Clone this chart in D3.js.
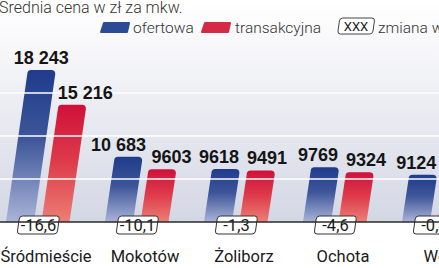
<!DOCTYPE html>
<html>
<head>
<meta charset="utf-8">
<script src="https://cdn.jsdelivr.net/npm/d3@7"></script>
<style>
  body { margin: 0; background: #fff; }
  svg { display: block; }
</style>
</head>
<body>
<svg width="439" height="268"></svg>
<script>
// dane: średnia cena w zł za mkw.
var categories = ['Śródmieście', 'Mokotów', 'Żoliborz', 'Ochota', 'Wola'];
var ofertowa = [18243, 10683, 9618, 9769, 9124];
var transakcyjna = [15216, 9603, 9491, 9324, 8870];
var zmiana = ['-16,6', '-10,1', '-1,3', '-4,6', '-0,4'];
var gridValues = [8750, 12500, 16250];

var svg = d3.select('svg');
var width = +svg.attr('width');
var height = +svg.attr('height');
var baseY = 222;
var slant = 0.14;
var barW = 28;

var x = d3.scalePoint()
    .domain(categories)
    .range([38, 434])
;

var y = d3.scaleLinear()
    .domain([5000, 18243])
    .range([baseY, 70])
;

var defs = svg.append('defs');

function vgrad(id, stops) {
    var g = defs.append('linearGradient')
        .attr('id', id)
        .attr('x1', 0).attr('y1', 0)
        .attr('x2', 0).attr('y2', 1);
    stops.forEach(function (s) {
        g.append('stop').attr('offset', s[0]).attr('stop-color', s[1]);
    });
}

vgrad('bg', [[0, '#ffffff'], [0.25, '#f6f6f9'], [1, '#d3d7e4']]);
vgrad('blue', [[0, '#1f3c8b'], [0.45, '#3d5599'], [1, '#aab4d8']]);
vgrad('red', [[0, '#d0103a'], [0.5, '#de3d4b'], [1, '#ec7f76']]);

// tło
svg.append('rect')
    .attr('x', 0).attr('y', 0)
    .attr('width', width).attr('height', baseY)
    .attr('fill', 'url(#bg)')
;

function barPath(xl, v) {
    var yt = y(v);
    var h = baseY - yt;
    var xt = xl + slant * h;
    var r = 4;
    return 'M' + xl + ',' + baseY +
        'L' + (xt) + ',' + (yt + r) +
        'Q' + xt + ',' + yt + ',' + (xt + r) + ',' + yt +
        'L' + (xt + barW - r) + ',' + yt +
        'Q' + (xt + barW) + ',' + yt + ',' + (xt + barW) + ',' + (yt + r) +
        'L' + (xl + barW) + ',' + baseY + 'Z';
}

var rows = categories.map(function (c, i) {
    return {cat: c, of: ofertowa[i], tr: transakcyjna[i], zm: zmiana[i]};
});

var group = svg.selectAll('.grp')
    .data(rows)
    .enter()
    .append('g')
        .attr('class', 'grp')
;

group.append('path')
    .attr('d', function (d) { return barPath(x(d.cat) - 32, d.of); })
    .attr('fill', 'url(#blue)')
;
group.append('path')
    .attr('d', function (d) { return barPath(x(d.cat) + 3.5, d.tr); })
    .attr('fill', 'url(#red)')
;

// linie siatki
svg.selectAll('.grid')
    .data(gridValues)
    .enter()
    .append('line')
        .attr('x1', 0).attr('x2', width)
        .attr('y1', function (d) { return y(d); })
        .attr('y2', function (d) { return y(d); })
        .attr('stroke', '#fff')
        .attr('stroke-width', 1.5)
;

// oś
svg.append('line')
    .attr('x1', 0).attr('x2', width)
    .attr('y1', baseY).attr('y2', baseY)
    .attr('stroke', '#2a2a2a')
    .attr('stroke-width', 1.5)
;

// etykiety wartości
function topCenter(xl, v) {
    return xl + slant * (baseY - y(v)) + barW / 2;
}

var labels = [];
rows.forEach(function (d) {
    var xb = x(d.cat) - 32;
    var a = {v: d.of, x: topCenter(xb, d.of), y: y(d.of) - 6};
    var b = {v: d.tr, x: topCenter(x(d.cat) + 3.5, d.tr), y: y(d.tr) - 6};
    var wa = String(d.of).length * 10 + 6;
    var wb = String(d.tr).length * 10 + 6;
    var overlap = (a.x + wa / 2) - (b.x - wb / 2);
    if (overlap > 0 && Math.abs(a.y - b.y) < 14) {
        a.x -= overlap / 2 + 1;
        b.x += overlap / 2 + 1;
    }
    // nie nachodź na słupek ofertowy
    if (b.y > y(d.of) + 2) {
        var edge = xb + slant * (baseY - b.y) + barW + 6;
        if (b.x - wb / 2 < edge) b.x = edge + wb / 2;
    }
    labels.push(a, b);
});

var fmt = function (v) {
    return v >= 10000 ? d3.format(',')(v).replace(',', ' ') : String(v);
};

svg.selectAll('.val')
    .data(labels)
    .enter()
    .append('text')
        .attr('class', 'val')
        .attr('x', function (d) { return d.x; })
        .attr('y', function (d) { return d.y; })
        .attr('text-anchor', 'middle')
        .attr('font-family', '"Liberation Sans", Arial, sans-serif')
        .attr('font-weight', 'bold')
        .attr('font-size', 18)
        .attr('fill', '#151515')
        .text(function (d) { return fmt(d.v); })
;

// ramki ze zmianą
function slantBox(cx, top, w, h, k) {
    var r = 3;
    var s = k * h;
    var xl = cx - w / 2;
    return 'M' + (xl + s + r) + ',' + top +
        'L' + (xl + w + s - r) + ',' + top +
        'Q' + (xl + w + s) + ',' + top + ',' + (xl + w + s - 0.5) + ',' + (top + r) +
        'L' + (xl + w + 0.5) + ',' + (top + h - r) +
        'Q' + (xl + w) + ',' + (top + h) + ',' + (xl + w - r) + ',' + (top + h) +
        'L' + (xl + r) + ',' + (top + h) +
        'Q' + xl + ',' + (top + h) + ',' + (xl + 0.5) + ',' + (top + h - r) +
        'L' + (xl + s - 0.5) + ',' + (top + r) +
        'Q' + (xl + s) + ',' + top + ',' + (xl + s + r) + ',' + top + 'Z';
}

group.append('path')
    .attr('d', function (d) { return slantBox(x(d.cat) - 1, 216, 40, 18, 0.15); })
    .attr('fill', '#fff')
    .attr('stroke', '#333')
    .attr('stroke-width', 1)
;
group.append('text')
    .attr('x', function (d) { return x(d.cat) + 0.5; })
    .attr('y', 231)
    .attr('text-anchor', 'middle')
    .attr('font-family', 'Roboto, sans-serif')
    .attr('font-size', 16.5)
    .attr('fill', '#1a1a1a')
    .text(function (d) { return d.zm; })
;

// kategorie
group.append('text')
    .attr('x', function (d) { return x(d.cat) + 8; })
    .attr('y', 262)
    .attr('text-anchor', 'middle')
    .attr('font-family', 'Roboto, sans-serif')
    .attr('font-size', 16.5)
    .attr('fill', '#1a1a1a')
    .text(function (d) { return d.cat; })
;

// tytuł
svg.append('text')
    .attr('x', -1)
    .attr('y', 13)
    .attr('font-family', 'Roboto, sans-serif')
    .attr('font-weight', 300)
    .attr('font-size', 16)
    .attr('fill', '#333')
    .text('Średnia cena w zł za mkw.')
;

// legenda
function swatch(x0, y0, fill) {
    svg.append('path')
        .attr('d', 'M' + (x0 + 3) + ',' + y0 + 'L' + (x0 + 28) + ',' + y0 +
            'L' + (x0 + 26) + ',' + (y0 + 9) + 'L' + x0 + ',' + (y0 + 9) + 'Z')
        .attr('fill', fill)
        .attr('stroke', fill)
        .attr('stroke-linejoin', 'round')
        .attr('stroke-width', 2)
    ;
}
swatch(101, 23, '#2d4a95');
swatch(202, 23, '#d42a45');

var legText = [
    {x: 133, t: 'ofertowa'},
    {x: 235, t: 'transakcyjna'},
    {x: 378, t: 'zmiana w proc.'}
];
svg.selectAll('.leg')
    .data(legText)
    .enter()
    .append('text')
        .attr('x', function (d) { return d.x; })
        .attr('y', 33)
        .attr('font-family', 'Roboto, sans-serif')
        .attr('font-weight', 300)
        .attr('font-size', 15.5)
        .attr('fill', '#333')
        .text(function (d) { return d.t; })
;

svg.append('path')
    .attr('d', slantBox(355, 18, 35, 16, 0.15))
    .attr('fill', '#fff')
    .attr('stroke', '#444')
    .attr('stroke-width', 1)
;
svg.append('text')
    .attr('x', 356)
    .attr('y', 30.5)
    .attr('text-anchor', 'middle')
    .attr('font-family', 'Roboto, sans-serif')
    .attr('font-size', 13)
    .attr('fill', '#222')
    .text('XXX')
;
</script>
</body>
</html>
